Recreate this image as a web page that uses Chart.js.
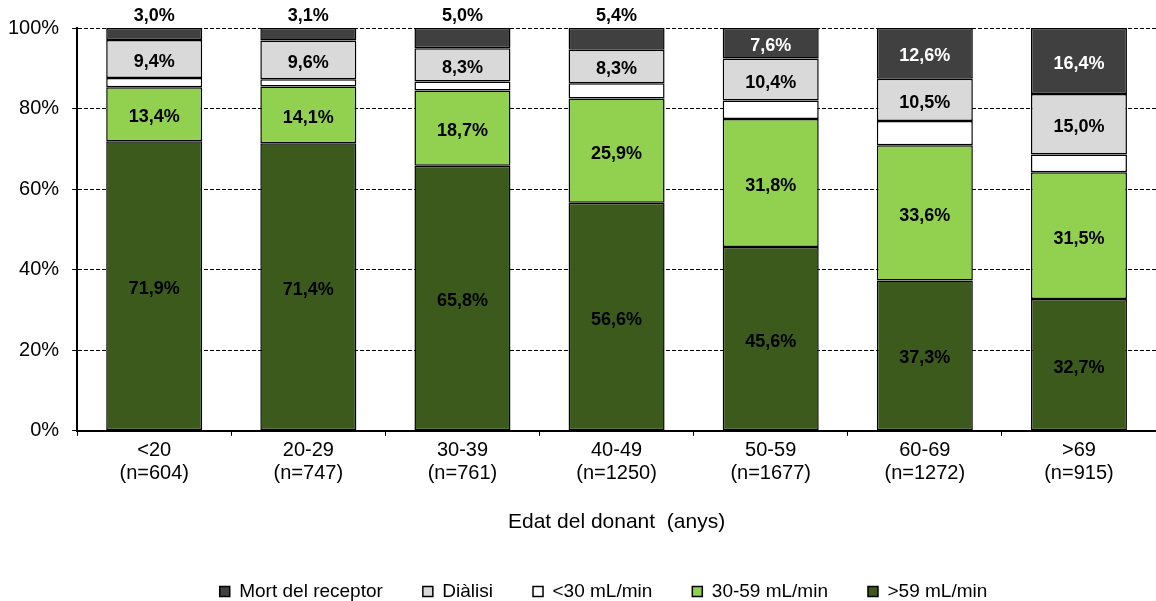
<!DOCTYPE html>
<html>
<head>
<meta charset="utf-8">
<script src="https://cdn.jsdelivr.net/npm/chart.js@4.4.1/dist/chart.umd.min.js"></script>
<style>
  html, body { margin: 0; padding: 0; background: #fff; }
  #wrap { width: 1156px; height: 601px; }
</style>
</head>
<body>
<div id="wrap"><canvas id="chart"></canvas></div>
<script>
// data (percent of each age group)
const categories = [['<20', '(n=604)'], ['20-29', '(n=747)'], ['30-39', '(n=761)'], ['40-49', '(n=1250)'],
                    ['50-59', '(n=1677)'], ['60-69', '(n=1272)'], ['>69', '(n=915)']];
const over59 = [71.9, 71.4, 65.8, 56.6, 45.6, 37.3, 32.7];
const from30to59 = [13.4, 14.1, 18.7, 25.9, 31.8, 33.6, 31.5];
const under30 = [2.3, 1.8, 2.2, 3.8, 4.6, 6.0, 4.4];
const dialisi = [9.4, 9.6, 8.3, 8.3, 10.4, 10.5, 15.0];
const mort = [3.0, 3.1, 5.0, 5.4, 7.6, 12.6, 16.4];
const yTicks = [0, 20, 40, 60, 80, 100];

const FONT = '"Liberation Sans", Arial, sans-serif';

/* value labels on the segments */
const segLabels = {
  id: 'segLabels',
  afterDatasetsDraw(chart) {
    const ctx = chart.ctx;
    ctx.save();
    ctx.font = 'bold 18px ' + FONT;
    ctx.textAlign = 'center';
    ctx.textBaseline = 'middle';
    chart.data.datasets.forEach((ds, di) => {
      if (!ds.showLabels) return;
      chart.getDatasetMeta(di).data.forEach((bar, i) => {
        const v = ds.data[i];
        const txt = v.toFixed(1).replace('.', ',') + '%';
        let y = (bar.y + bar.base) / 2 + 3;
        ctx.fillStyle = '#000';
        if (ds.outsideSmall && v < 6) y = bar.y - 12;
        else if (ds.labelColor) ctx.fillStyle = ds.labelColor;
        ctx.fillText(txt, bar.x, y);
      });
    });
    ctx.restore();
  }
};

/* legend sits a bit right of the canvas centre in the original */
const legendShift = {
  id: 'legendShift',
  afterLayout(chart) {
    chart.legend.left += 28;
    chart.legend.right += 28;
  }
};

const bar = (label, data, color, extra) => Object.assign({
  label, data,
  backgroundColor: color,
  borderColor: '#000',
  borderWidth: 1.5,
  borderSkipped: false,
  showLabels: true
}, extra || {});

new Chart(document.getElementById('chart'), {
  type: 'bar',
  data: {
    labels: categories,
    datasets: [
      bar('>59 mL/min', over59, '#3b5a1b'),
      bar('30-59 mL/min', from30to59, '#92d050'),
      bar('<30 mL/min', under30, '#ffffff', { showLabels: false }),
      bar('Diàlisi', dialisi, '#d9d9d9'),
      bar('Mort del receptor', mort, '#404040', { outsideSmall: true, labelColor: '#fff' })
    ]
  },
  options: {
    responsive: true,
    maintainAspectRatio: false,
    animation: false,
    datasets: { bar: { categoryPercentage: 1, barPercentage: 0.623 } },
    layout: { padding: { left: -5, right: 0, top: 28, bottom: -10 } },
    plugins: {
      tooltip: { enabled: false },
      legend: {
        position: 'bottom',
        reverse: true,
        labels: {
          boxWidth: 10, boxHeight: 10, padding: 40,
          color: '#000',
          font: { family: FONT, size: 19 }
        }
      }
    },
    scales: {
      x: {
        stacked: true,
        grid: { offset: true, drawOnChartArea: false, drawTicks: true, tickLength: 5, color: '#000' },
        border: { display: true, color: '#000', width: 2 },
        ticks: { color: '#000', padding: 3, maxRotation: 0, autoSkip: false,
                 font: { family: FONT, size: 20, lineHeight: 1.15 } },
        title: { display: true, text: 'Edat del donant  (anys)', color: '#000',
                 font: { family: FONT, size: 21 }, padding: { top: 22, bottom: 7 } }
      },
      y: {
        stacked: true,
        min: 0, max: 100,
        afterBuildTicks: axis => { axis.ticks = yTicks.map(v => ({ value: v })); },
        grid: { color: '#000', lineWidth: 1, tickLength: 5, tickColor: '#000' },
        border: { display: true, color: '#000', width: 2, dash: [4, 2] },
        ticks: { color: '#000', padding: 13, font: { family: FONT, size: 20 },
                 callback: v => v + '%' }
      }
    }
  },
  plugins: [segLabels, legendShift]
});
</script>
</body>
</html>
